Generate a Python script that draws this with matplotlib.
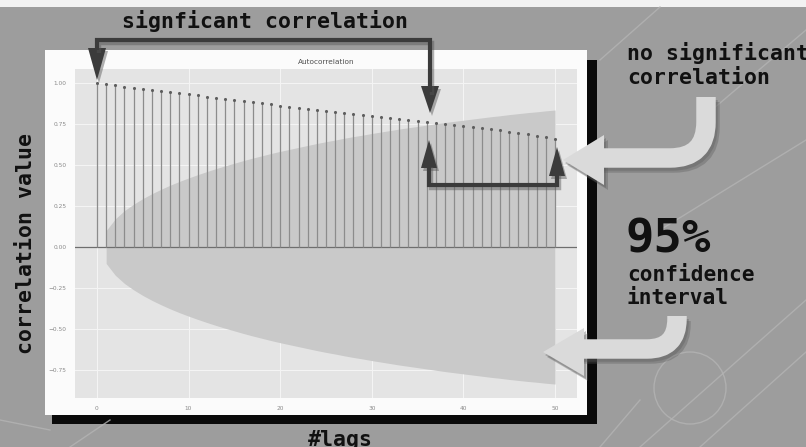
import matplotlib
matplotlib.use("Agg")
import matplotlib.pyplot as plt
from matplotlib.patches import Rectangle, Polygon, PathPatch, Circle
from matplotlib.path import Path

# ---------------- data ----------------
lags = list(range(0, 51))
acf_values = [1.000, 0.992, 0.985, 0.978, 0.972, 0.965, 0.958, 0.951, 0.944, 0.937,
              0.930, 0.924, 0.917, 0.910, 0.903, 0.896, 0.889, 0.882, 0.876, 0.869,
              0.862, 0.856, 0.849, 0.843, 0.837, 0.830, 0.824, 0.818, 0.812, 0.806,
              0.800, 0.794, 0.788, 0.782, 0.776, 0.770, 0.764, 0.758, 0.752, 0.745,
              0.739, 0.732, 0.725, 0.718, 0.711, 0.703, 0.695, 0.687, 0.679, 0.671,
              0.660]
band_lags = list(range(1, 51))
band_values = [0.100, 0.172, 0.222, 0.261, 0.295, 0.325, 0.352, 0.377, 0.400, 0.421,
               0.441, 0.460, 0.478, 0.495, 0.511, 0.527, 0.542, 0.556, 0.570, 0.583,
               0.595, 0.607, 0.619, 0.631, 0.642, 0.652, 0.663, 0.673, 0.682, 0.692,
               0.701, 0.710, 0.719, 0.727, 0.735, 0.743, 0.751, 0.759, 0.766, 0.773,
               0.780, 0.787, 0.794, 0.800, 0.807, 0.813, 0.819, 0.824, 0.830, 0.835]
x_ticks = [0, 10, 20, 30, 40, 50]
y_ticks = [-0.75, -0.5, -0.25, 0.0, 0.25, 0.5, 0.75, 1.0]
y_tick_labels = ["−0.75", "−0.50", "−0.25", "0.00", "0.25", "0.50", "0.75", "1.00"]
chart_title = "Autocorrelation"

W, H = 806, 447
fig = plt.figure(figsize=(W / 100, H / 100), dpi=100)
fig.patch.set_facecolor("#9d9d9d")

# ---------------- background layer ----------------
bg = fig.add_axes([0, 0, 1, 1], zorder=0)
bg.set_xlim(0, W); bg.set_ylim(H, 0); bg.axis("off")
bg.add_patch(Rectangle((0, 0), W, 7, color="#f2f2f2", lw=0))
deco = dict(color="#b4b4b4", lw=1.0, alpha=0.8)
for (x0, y0, x1, y1) in [(640, 447, 806, 300), (700, 447, 806, 352), (600, 60, 660, 7),
                         (700, 120, 806, 30), (660, 230, 806, 140), (70, 447, 110, 420),
                         (0, 420, 50, 430), (600, 447, 640, 400)]:
    bg.plot([x0, x1], [y0, y1], **deco)
bg.add_patch(Circle((690, 388), 36, fill=False, ec="#b4b4b4", lw=1.0, alpha=0.8))
# black shadow of the panel
bg.add_patch(Rectangle((587, 60), 10, 364, color="#0a0a0a", lw=0))
bg.add_patch(Rectangle((52, 415), 545, 9, color="#0a0a0a", lw=0))
# white panel
bg.add_patch(Rectangle((45, 50), 542, 365, color="#fbfbfb", lw=0))

# ---------------- chart ----------------
axL, axR, axT, axB = 75, 577, 69, 398
ax = fig.add_axes([axL / W, 1 - axB / H, (axR - axL) / W, (axB - axT) / H], zorder=1)
ax.set_facecolor("#e4e4e4")
ax.set_xlim(-2.4, 52.4)
ax.set_ylim(-0.92, 1.085)
for s in ax.spines.values():
    s.set_visible(False)
ax.grid(True, color="#f4f4f4", lw=0.8)
ax.set_axisbelow(True)
ax.fill_between(band_lags, [-v for v in band_values], band_values,
                color="#c9c9c9", lw=0, zorder=1)
ax.axhline(0, color="#6e6e6e", lw=0.9, zorder=2)
ax.vlines(lags, 0, acf_values, color="#8c8c8c", lw=0.9, zorder=3)
ax.scatter(lags, acf_values, s=5, color="#5e5e5e", zorder=4, lw=0)
ax.set_xticks(x_ticks)
ax.set_yticks(y_ticks)
ax.set_yticklabels(y_tick_labels)
ax.tick_params(length=0, labelsize=4.2, colors="#8a8a8a", pad=6)
fig.text((axL + axR) / 2 / W, 1 - 62 / H, chart_title, ha="center", va="center",
         fontsize=5.3, color="#505050")

# ---------------- overlay layer ----------------
ov = fig.add_axes([0, 0, 1, 1], zorder=2)
ov.set_xlim(0, W); ov.set_ylim(H, 0); ov.axis("off"); ov.patch.set_alpha(0)

dark = "#3b3b3b"

def dark_line(xs, ys):
    ov.plot([x + 2 for x in xs], [y + 3 for y in ys], color="#555555", lw=3.2,
            alpha=0.45, solid_joinstyle="miter", solid_capstyle="butt")
    ov.plot(xs, ys, color=dark, lw=3.0, solid_joinstyle="miter", solid_capstyle="butt")

def dark_head(tip, base_y, half_w, cx):
    pts = [(cx - half_w, base_y), tip, (cx + half_w, base_y)]
    ov.add_patch(Polygon([(x + 2, y + 3) for x, y in pts], closed=True,
                         color="#555555", alpha=0.45, lw=0))
    ov.add_patch(Polygon(pts, closed=True, color=dark, lw=0))

# upper bracket (significant correlation)
dark_line([97, 97, 430, 430], [50, 40, 40, 92])
dark_head((97, 80), 48, 9, 97)
dark_head((430, 113), 86, 9, 430)
# lower bracket (no significant correlation)
dark_line([429, 429, 557, 557], [164, 185, 185, 172])
dark_head((429, 140), 168, 8, 429)
dark_head((557, 147), 176, 8, 557)

light = "#dadada"

def big_arrow(x_top, y_top, y_h, r, x_end, head):
    verts = [(x_top, y_top), (x_top, y_h - r), (x_top, y_h), (x_top - r, y_h), (x_end, y_h)]
    codes = [Path.MOVETO, Path.LINETO, Path.CURVE3, Path.CURVE3, Path.LINETO]
    for dx, dy, col, a in [(4, 5, "#5a5a5a", 0.35), (2, 3, "#5a5a5a", 0.35)]:
        p = Path([(x + dx, y + dy) for x, y in verts], codes)
        ov.add_patch(PathPatch(p, fill=False, ec=col, lw=14, alpha=a, capstyle="butt"))
        ov.add_patch(Polygon([(x + dx, y + dy) for x, y in head], closed=True,
                             color=col, alpha=a, lw=0))
    ov.add_patch(PathPatch(Path(verts, codes), fill=False, ec=light, lw=14,
                           capstyle="butt", joinstyle="round"))
    ov.add_patch(Polygon(head, closed=True, color=light, lw=0))

big_arrow(706, 97, 158, 36, 600, [(604, 135), (563, 160), (604, 185)])
big_arrow(677, 316, 349, 30, 580, [(584, 328), (543, 352), (584, 376)])

# ---------------- texts ----------------
mono = dict(family="DejaVu Sans Mono", fontweight="bold", color="#111111")
ov.text(265, 21, "signficant correlation", ha="center", va="center", fontsize=15.5, **mono)
ov.text(627, 53, "no significant", ha="left", va="center", fontsize=15.5, **mono)
ov.text(627, 78, "correlation", ha="left", va="center", fontsize=15.5, **mono)
ov.text(626, 240, "95%", ha="left", va="center", fontsize=34, **mono)
ov.text(627, 275, "confidence", ha="left", va="center", fontsize=15.2, **mono)
ov.text(627, 298, "interval", ha="left", va="center", fontsize=15.2, **mono)
ov.text(26, 244, "correlation value", ha="center", va="center", rotation=90,
        fontsize=15.5, **mono)
ov.text(340, 440, "#lags", ha="center", va="center", fontsize=15.5, **mono)

fig.savefig("out.png", dpi=100, facecolor=fig.get_facecolor())
